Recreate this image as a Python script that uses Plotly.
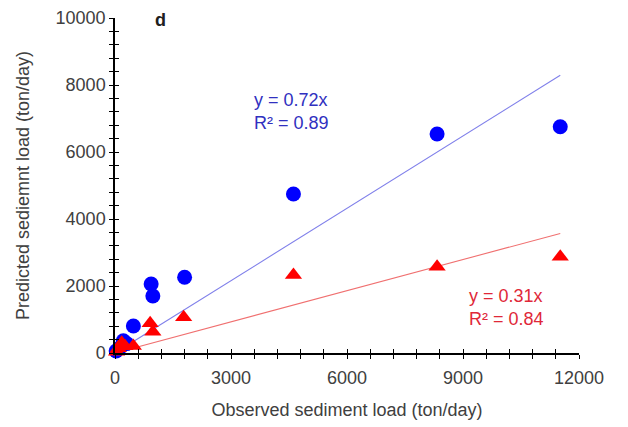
import plotly.graph_objects as go

obs_blue = [30, 120, 216, 300, 475, 935, 979, 1800, 4615, 8330, 11515]
pred_blue = [60, 150, 367, 280, 806, 2060, 1700, 2260, 4746, 6537, 6755]
obs_red = [40, 86, 174, 260, 475, 909, 979, 1775, 4615, 8330, 11515]
pred_red = [40, 140, 307, 200, 209, 886, 637, 1066, 2328, 2576, 2875]
slope_blue = 0.72
slope_red = 0.31
line_x = [0, 11515]
x_ticks = [0, 3000, 6000, 9000, 12000]
x_labels = ["0", "3000", "6000", "9000", "12000"]
y_ticks = [0, 2000, 4000, 6000, 8000, 10000]
y_labels = ["0", "2000", "4000", "6000", "8000", "10000"]

font_fam = "Liberation Sans, Arial, sans-serif"
fig = go.Figure()

fig.add_trace(go.Scatter(x=line_x, y=[slope_blue * v for v in line_x], mode="lines",
                         line=dict(color="#8080ea", width=1.1), showlegend=False, cliponaxis=False))
fig.add_trace(go.Scatter(x=line_x, y=[slope_red * v for v in line_x], mode="lines",
                         line=dict(color="#f07070", width=1.1), showlegend=False, cliponaxis=False))
fig.add_trace(go.Scatter(x=obs_blue, y=pred_blue, mode="markers",
                         marker=dict(symbol="circle", size=15, color="#0000ff"),
                         showlegend=False, cliponaxis=False))
fig.add_trace(go.Scatter(x=obs_red, y=pred_red, mode="markers",
                         marker=dict(symbol="triangle-up", size=15, color="#ff0000"),
                         showlegend=False, cliponaxis=False))
# invisible trace to anchor overlay axes (for crossing ticks)
fig.add_trace(go.Scatter(x=[0], y=[0], xaxis="x2", yaxis="y2", mode="markers",
                         marker=dict(opacity=0), showlegend=False, hoverinfo="skip"))

common = dict(showgrid=False, zeroline=False, showline=True, linecolor="black", linewidth=1.5,
              tickcolor="black", ticklen=4, tickwidth=1.3, automargin=False)

fig.update_layout(
    width=620, height=419,
    margin=dict(l=107, r=49, t=10, b=74),
    plot_bgcolor="white", paper_bgcolor="white",
    font=dict(family=font_fam, size=18, color="#404040"),
    xaxis=dict(range=[0, 12000], tickvals=x_ticks, ticktext=x_labels, ticks="outside",
               ticklabelstandoff=4,
               minor=dict(dtick=600, ticks="outside", ticklen=4, tickcolor="black", tickwidth=1.3),
               title=dict(text="Observed sediment load (ton/day)", font=dict(size=18, color="#404040"), standoff=16),
               tickfont=dict(size=18, color="#404040"), **common),
    yaxis=dict(range=[0, 10000], tickvals=y_ticks, ticktext=y_labels, ticks="outside",
               minor=dict(dtick=400, ticks="outside", ticklen=4, tickcolor="black", tickwidth=1.3),
               title=dict(text="Predicted sediemnt load (ton/day)", font=dict(size=18, color="#404040"), standoff=21),
               tickfont=dict(size=18, color="#404040"), **common),
    xaxis2=dict(range=[0, 12000], overlaying="x", anchor="y2", tickvals=x_ticks, ticks="inside",
                showticklabels=False,
                minor=dict(dtick=600, ticks="inside", ticklen=4, tickcolor="black", tickwidth=1.3),
                **common),
    yaxis2=dict(range=[0, 10000], overlaying="y", anchor="x2", tickvals=y_ticks, ticks="inside",
                showticklabels=False,
                minor=dict(dtick=400, ticks="inside", ticklen=4, tickcolor="black", tickwidth=1.3),
                **common),
)

fig.add_annotation(text="<b>d</b>", xref="paper", yref="paper", x=0.097, y=1.03, xanchor="center",
                   yanchor="top", showarrow=False, font=dict(size=18, color="#202020", family=font_fam))
fig.add_annotation(text="y = 0.72x<br>R² = 0.89", xref="x", yref="y", x=3550, y=7200,
                   xanchor="left", yanchor="middle", showarrow=False, align="left",
                   font=dict(size=18, color="#3030c0", family=font_fam))
fig.add_annotation(text="y = 0.31x<br>R² = 0.84", xref="x", yref="y", x=9100, y=1350,
                   xanchor="left", yanchor="middle", showarrow=False, align="left",
                   font=dict(size=18, color="#e02838", family=font_fam))

fig.write_html("out.html")
